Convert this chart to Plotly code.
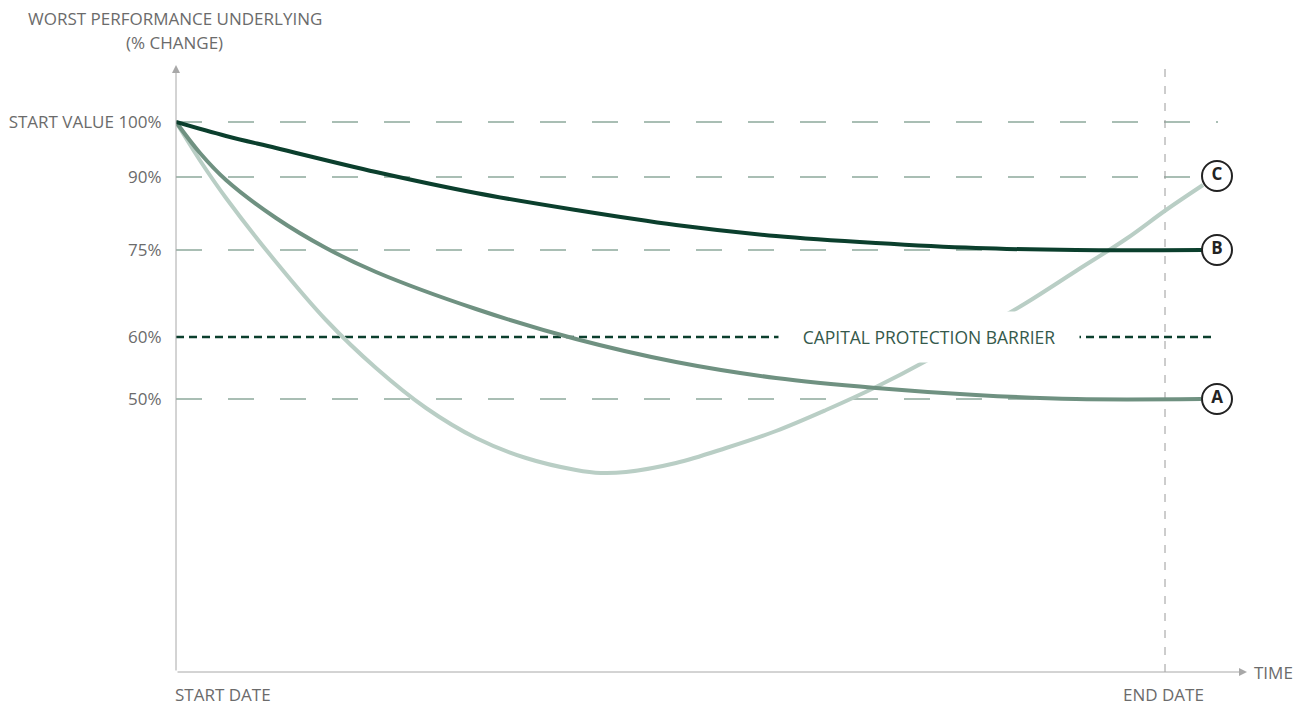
import plotly.graph_objects as go

# Schematic units: x = time from start date, y = schematic level above the time axis
TICK_LEVELS = [550, 495, 422, 335, 273]
TICK_LABELS = ["START VALUE 100%", "90%", "75%", "60%", "50%"]
GRID_LEVELS = [550, 495, 422, 273]
BARRIER_LEVEL = 335
END_DATE_T = 989
GRID_END_T = 1042

T_A = [0, 24, 50, 100, 150, 200, 300, 400, 500, 600, 700, 800, 900, 1025]
V_A = [550, 519, 492, 454, 424, 400, 363, 333, 310, 294, 284, 277, 273, 273]

T_B = [0, 50, 100, 200, 300, 400, 500, 600, 700, 800, 900, 1026]
V_B = [550, 536, 524, 500, 479, 462, 447, 436, 429, 424, 422, 422]

T_C = [0, 25, 50, 100, 150, 200, 250, 300, 350, 400, 425, 450, 500, 550, 600, 650, 700,
       750, 800, 850, 900, 950, 990, 1027]
V_C = [550, 510, 474, 410, 352, 304, 264, 234, 214, 202, 199, 200, 209, 224, 241, 262, 285,
       311, 340, 369, 401, 433, 462, 487]

LABEL_NAMES = ["A", "B", "C"]
LABEL_T = [1041, 1041, 1041]
LABEL_V = [273, 422, 496]

COL_A = "#6f9181"
COL_B = "#0b3f2d"
COL_C = "#b9cec5"
GRID_COL = "#a9beb4"
AXIS_COL = "#a8a8a8"
TEXT_COL = "#6b6b6b"
FONT = "Open Sans"
FS = 17

X_SPAN = 1071
Y_SPAN = 607


def px_to_paper(px, py):
    return (px - 176) / X_SPAN, (672 - py) / Y_SPAN


fig = go.Figure()

shapes = []
for lv in GRID_LEVELS:
    shapes.append(dict(type="line", x0=0, x1=GRID_END_T, y0=lv, y1=lv, xref="x", yref="y",
                       line=dict(color=GRID_COL, width=2, dash="26px,26px"), layer="below"))
shapes.append(dict(type="line", x0=0, x1=1039, y0=BARRIER_LEVEL, y1=BARRIER_LEVEL, xref="x", yref="y",
                   line=dict(color=COL_B, width=2.5, dash="8px,5px"), layer="below"))
shapes.append(dict(type="line", x0=END_DATE_T, x1=END_DATE_T, y0=0, y1=624, xref="x", yref="y",
                   line=dict(color="#9a9a9a", width=1, dash="8px,9px"), layer="below"))

for t, v, col in [(T_C, V_C, COL_C), (T_A, V_A, COL_A), (T_B, V_B, COL_B)]:
    fig.add_trace(go.Scatter(x=t, y=v, mode="lines",
                             line=dict(color=col, width=4, shape="spline", smoothing=1),
                             hoverinfo="skip", showlegend=False))

fig.add_trace(go.Scatter(x=LABEL_T, y=LABEL_V, mode="markers+text", text=LABEL_NAMES,
                         textposition="middle center",
                         textfont=dict(family=FONT, size=17, color="#222222", weight="bold"),
                         marker=dict(size=30, color="white", line=dict(color="#222222", width=2)),
                         hoverinfo="skip", showlegend=False))

t1x, t1y = px_to_paper(175, 19)
t2x, t2y = px_to_paper(174, 43)

annotations = [
    # axis arrows
    dict(x=0, y=607, ax=0, ay=0, xref="x", yref="y", axref="x", ayref="y", text="",
         showarrow=True, arrowhead=2, arrowsize=1.6, arrowwidth=1, arrowcolor=AXIS_COL, standoff=0),
    dict(x=1071, y=0, ax=0, ay=0, xref="x", yref="y", axref="x", ayref="y", text="",
         showarrow=True, arrowhead=2, arrowsize=1.6, arrowwidth=1, arrowcolor=AXIS_COL, standoff=0),
    # titles
    dict(x=t1x, y=t1y, xref="paper", yref="paper", text="WORST PERFORMANCE UNDERLYING",
         xanchor="center", yanchor="middle",
         showarrow=False, font=dict(family=FONT, size=FS, color=TEXT_COL)),
    dict(x=t2x, y=t2y, xref="paper", yref="paper", text="(% CHANGE)",
         xanchor="center", yanchor="middle",
         showarrow=False, font=dict(family=FONT, size=FS, color=TEXT_COL)),
    dict(x=0, y=0, xref="x", yref="y", text="START DATE", xanchor="left", yanchor="middle",
         yshift=-22, xshift=-3, showarrow=False, font=dict(family=FONT, size=FS, color=TEXT_COL)),
    dict(x=END_DATE_T, y=0, xref="x", yref="y", text="END DATE", xanchor="center", yanchor="middle",
         yshift=-22, xshift=-2, showarrow=False, font=dict(family=FONT, size=FS, color=TEXT_COL)),
    dict(x=1071, y=0, xref="x", yref="y", text="TIME", xanchor="left", yanchor="middle",
         xshift=5, showarrow=False, font=dict(family=FONT, size=FS, color=TEXT_COL)),
    dict(x=753, y=BARRIER_LEVEL, xref="x", yref="y", text="CAPITAL PROTECTION BARRIER",
         showarrow=False, bgcolor="white", width=272, height=22, borderpad=14,
         font=dict(family=FONT, size=17.5, color="#35594b")),
]

fig.update_layout(
    width=1306, height=705,
    margin=dict(l=176, r=59, t=65, b=33, autoexpand=False),
    paper_bgcolor="white", plot_bgcolor="white",
    shapes=shapes, annotations=annotations,
    xaxis=dict(range=[0, X_SPAN], showgrid=False, zeroline=False, showline=False,
               showticklabels=False, ticks="", fixedrange=True, automargin=False),
    yaxis=dict(range=[0, Y_SPAN], showgrid=False, zeroline=False, showline=False,
               tickvals=TICK_LEVELS, ticktext=TICK_LABELS, ticks="outside", ticklen=10,
               tickcolor="rgba(0,0,0,0)", tickfont=dict(family=FONT, size=FS, color=TEXT_COL),
               fixedrange=True, automargin=False),
    showlegend=False,
)

fig.write_html("out.html")
